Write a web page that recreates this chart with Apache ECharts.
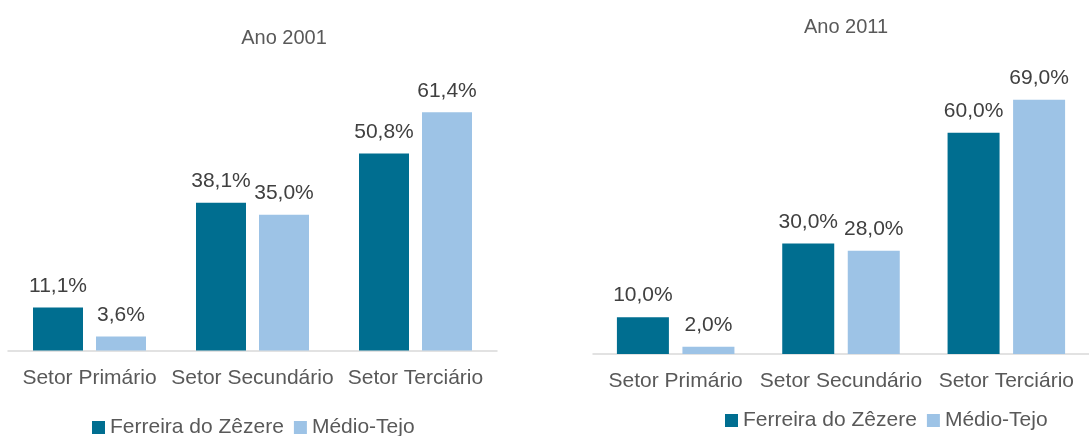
<!DOCTYPE html>
<html>
<head>
<meta charset="utf-8">
<script src="https://cdn.jsdelivr.net/npm/echarts@6/dist/echarts.min.js"></script>
<style>
  html, body { margin: 0; padding: 0; background: #fff; }
  #chart { width: 1089px; height: 436px; }
</style>
</head>
<body>
<div id="chart"></div>
<script>
const categories = ['Setor Primário', 'Setor Secundário', 'Setor Terciário'];
const seriesNames = ['Ferreira do Zêzere', 'Médio-Tejo'];
const ferreira2001 = [11.1, 38.1, 50.8];
const medio2001 = [3.6, 35.0, 61.4];
const ferreira2011 = [10.0, 30.0, 60.0];
const medio2011 = [2.0, 28.0, 69.0];

const DARK = '#006E90';
const LIGHT = '#9DC3E6';
const TEXT = '#595959';
const FONT = "'Liberation Sans', Arial, sans-serif";

const fmt = p => p.value.toFixed(1).replace('.', ',') + '%';

const chart = echarts.init(document.getElementById('chart'));

function bar(name, data, idx, color, width) {
  return {
    name: name,
    type: 'bar',
    xAxisIndex: idx,
    yAxisIndex: idx,
    data: data,
    barWidth: width,
    barGap: '26%',
    itemStyle: { color: color },
    label: {
      show: true,
      position: 'top',
      distance: 11,
      formatter: fmt,
      color: '#404040',
      fontSize: 21,
      fontFamily: FONT
    }
  };
}

function xAxis(idx) {
  return {
    type: 'category',
    gridIndex: idx,
    data: categories,
    axisTick: { show: false },
    axisLine: { lineStyle: { color: '#D9D9D9', width: 1.5 } },
    axisLabel: { color: TEXT, fontSize: 21, fontFamily: FONT, margin: 17, interval: 0 }
  };
}

function yAxis(idx) {
  return {
    type: 'value',
    gridIndex: idx,
    min: 0,
    max: 70,
    show: false,
    splitLine: { show: false }
  };
}

function legend(left, top) {
  return {
    data: seriesNames,
    left: left,
    top: top,
    icon: 'rect',
    itemWidth: 13,
    itemHeight: 13,
    itemGap: 10,
    textStyle: { color: TEXT, fontSize: 21, fontFamily: FONT }
  };
}

chart.setOption({
  animation: false,
  title: [
    {
      text: 'Ano 2001', left: 279, top: 23, textAlign: 'center',
      textStyle: { color: TEXT, fontSize: 20, fontWeight: 'normal', fontFamily: FONT }
    },
    {
      text: 'Ano 2011', left: 841, top: 12, textAlign: 'center',
      textStyle: { color: TEXT, fontSize: 20, fontWeight: 'normal', fontFamily: FONT }
    }
  ],
  legend: [legend(87, 412), legend(720, 405)],
  grid: [
    { left: 8, top: 79, width: 489, height: 271.5 },
    { left: 593, top: 96, width: 510, height: 258 }
  ],
  xAxis: [xAxis(0), xAxis(1)],
  yAxis: [yAxis(0), yAxis(1)],
  series: [
    bar(seriesNames[0], ferreira2001, 0, DARK, 50),
    bar(seriesNames[1], medio2001, 0, LIGHT, 50),
    bar(seriesNames[0], ferreira2011, 1, DARK, 52),
    bar(seriesNames[1], medio2011, 1, LIGHT, 52)
  ]
});

window.addEventListener('resize', () => chart.resize());
</script>
</body>
</html>
